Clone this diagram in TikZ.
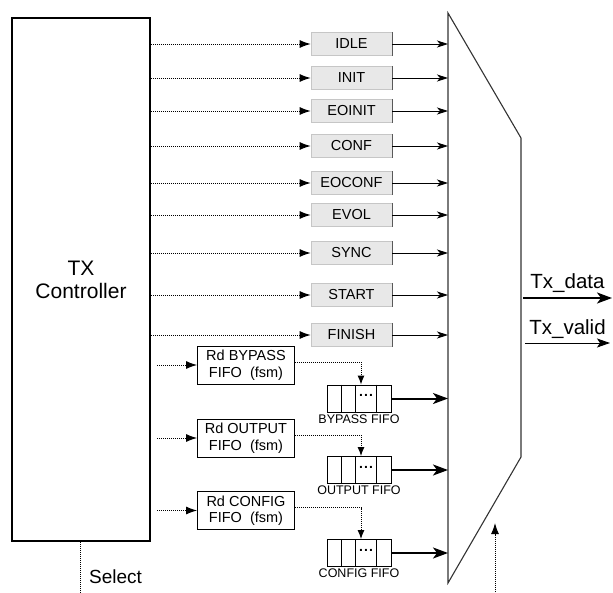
\documentclass[tikz,border=0pt]{standalone}
\usepackage{fontspec}
\setmainfont{Liberation Sans}
\usetikzlibrary{arrows.meta,positioning,calc}
\tikzset{
  state/.style={fill=gray!18,draw=gray!45,line width=0.6pt,minimum width=81pt,minimum height=23pt,inner sep=0pt,font=\fontsize{14.5}{16}\selectfont},
  rdbox/.style={draw,line width=0.8pt,minimum width=97pt,minimum height=38pt,align=center,inner sep=0pt,font=\fontsize{14.5}{16.5}\selectfont},
  fifo/.style={draw,line width=0.9pt,minimum width=64pt,minimum height=27pt,inner sep=0pt},
  fifolabel/.style={inner sep=1pt,font=\fontsize{12.5}{14}\selectfont},
  dotarrow/.style={line width=1pt,dash pattern=on 1pt off 1pt,-{Latex[length=11pt,width=8pt]}},
  thinarrow/.style={line width=0.9pt,-{Stealth[length=11pt,width=7pt,inset=3pt]}},
  thickarrow/.style={line width=2pt,-{Stealth[length=15pt,width=11pt,inset=4pt]}},
}
\begin{document}
\begin{tikzpicture}[x=1pt,y=-1pt]
  \useasboundingbox (0,0) rectangle (613,592);
  % Controller
  \node[draw,line width=1.8pt,minimum width=138pt,minimum height=523pt,align=center,
        font=\fontsize{21}{23}\selectfont] (ctrl) at (81,279.5) {TX\\Controller};
  % Multiplexer
  \coordinate (muxTL) at (448,13);
  \coordinate (muxTR) at (521,138);
  \coordinate (muxBR) at (521,457);
  \coordinate (muxBL) at (448,583);
  \draw[line width=1.1pt,black!80] (muxTL) -- (muxTR) -- (muxBR) -- (muxBL) -- cycle;
  % States
  \foreach \name/\y in {IDLE/44,INIT/78,EOINIT/111,CONF/146,EOCONF/183,EVOL/215,SYNC/253,START/295,FINISH/335}{
    \node[state] (s\name) at (351.5,\y) {\name};
    \draw[black!65,line width=0.8pt] (s\name.north east) -- (s\name.south east);
    \draw[dotarrow] (ctrl.east |- s\name.west) -- (s\name.west);
    \draw[thinarrow] (s\name.east) -- (s\name.east -| muxTL);
  }
  % FIFO readers and FIFOs
  \coordinate (rdstart) at (157,0);
  \foreach \kind/\ry/\fy in {BYPASS/365/398.5,OUTPUT/438/470,CONFIG/510.5/553}{
    \node[rdbox] (rd\kind) at (246,\ry) {Rd \kind\\FIFO\ \ (fsm)};
    \node[fifo] (fifo\kind) at (359,\fy) {};
    \foreach \dx in {15,29,50}
      \draw[line width=0.9pt] ([xshift=\dx pt]fifo\kind.north west) -- ([xshift=\dx pt]fifo\kind.south west);
    \node[inner sep=0pt,font=\fontsize{14}{14}\bfseries] at ([xshift=39.5pt,yshift=3pt]fifo\kind.west) {.\kern1.2pt.\kern1.2pt.};
    \node[fifolabel,below=1pt of fifo\kind] {\kind\ FIFO};
    \draw[dotarrow] (rdstart |- rd\kind.west) -- (rd\kind.west);
    \draw[line width=1pt,dash pattern=on 1pt off 1pt,-{Latex[length=9pt,width=7pt]}]
      ([yshift=3pt]rd\kind.east) -| ([xshift=2pt]fifo\kind.north);
    \draw[thickarrow] (fifo\kind.east) -- (fifo\kind.east -| muxTL);
  }
  % Outputs
  \coordinate (txd) at (612,298);
  \coordinate (txv) at (610,343);
  \draw[thickarrow] ([xshift=2pt]txd -| muxTR) -- (txd)
    node[midway,above=1pt,font=\fontsize{20.5}{22}\selectfont] {Tx\_data};
  \draw[thinarrow,-{Stealth[length=13pt,width=9pt,inset=3pt]}] ([xshift=4pt]txv -| muxTR) -- (txv)
    node[midway,above=1pt,font=\fontsize{20.5}{22}\selectfont] {Tx\_valid};
  % Select
  \coordinate (selbot) at (80,592);
  \draw[line width=1pt,dash pattern=on 1pt off 1pt] (ctrl.south -| selbot) -- (selbot);
  \node[anchor=west,inner sep=0pt,font=\fontsize{19}{21}\selectfont] (sel) at (89,577) {Select};
  \coordinate (muxsel) at (495,592);
  \draw[dotarrow] (muxsel) -- ++(0,-69);
\end{tikzpicture}
\end{document}
